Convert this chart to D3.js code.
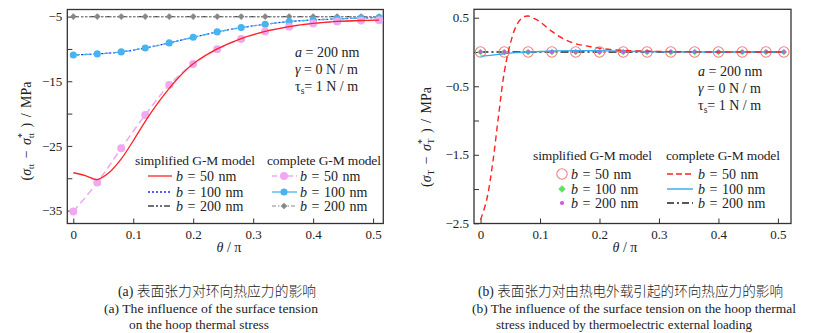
<!DOCTYPE html>
<html><head><meta charset="utf-8">
<script src="https://cdn.jsdelivr.net/npm/d3@7"></script>
<style>
body{margin:0;background:#fff;}
svg{display:block;}
text{font-family:"Liberation Serif","Times New Roman",serif;fill:#222;}
</style></head>
<body>
<svg id="c" width="814" height="333"></svg>
<script>
// ---------- data ----------
const thetaMarks = [0,0.04,0.08,0.12,0.16,0.20,0.24,0.28,0.32,0.36,0.40,0.44,0.48,0.51];
const aComplete50 = [-35.15,-30.67,-25.36,-20.21,-15.57,-12.32,-10.05,-8.45,-7.32,-6.55,-6.08,-5.77,-5.62,-5.57];
const aB100 = [-10.93,-10.77,-10.46,-9.85,-9.07,-8.20,-7.37,-6.70,-6.19,-5.77,-5.52,-5.36,-5.21,-5.15];
const aB200 = [-5,-5,-5,-5,-5,-5,-5,-5,-5,-5,-5,-5,-5,-5];
const thetaA50 = [0,0.02,0.04,0.06,0.08,0.10,0.12,0.14,0.16,0.18,0.20,0.24,0.28,0.32,0.36,0.40,0.44,0.48,0.51];
const aSimplified50 = [-29.15,-29.6,-30.2,-29.1,-27.0,-24.2,-21.2,-18.5,-16.1,-14.0,-12.3,-10.0,-8.4,-7.3,-6.55,-6.05,-5.75,-5.6,-5.55];

const thetaB50 = [0,0.01,0.02,0.03,0.04,0.05,0.06,0.07,0.08,0.09,0.10,0.12,0.14,0.16,0.18,0.20,0.22,0.25,0.30,0.35,0.40,0.45,0.51];
const bComplete50 = [-2.45,-2.17,-1.65,-0.95,-0.29,0.12,0.38,0.5,0.525,0.49,0.44,0.3,0.19,0.12,0.085,0.055,0.035,0.02,0.008,0.003,0,0,0];
const thetaB100 = [0,0.02,0.04,0.06,0.08,0.12,0.16,0.20,0.24,0.30,0.40,0.51];
const bComplete100 = [-0.06,-0.045,-0.025,-0.01,0.0,0.015,0.02,0.018,0.01,0.003,0,0];
const bComplete200 = [0,0,0,0,0,0,0,0,0,0,0,0,0,0];
const bSimplified = [0,0,0,0,0,0,0,0,0,0,0,0,0,0];

const xTicks = [0,0.1,0.2,0.3,0.4,0.5];
const aYTicks = [-5,-10,-15,-20,-25,-30,-35];
const aYLabels = [-5,-15,-25,-35];
const bYTicks = [0.5,0,-0.5,-1,-1.5,-2,-2.5];
const bYLabels = [0.5,-0.5,-1.5,-2.5];
const legendB = ["50","100","200"];

// ---------- drawing ----------
const svg = d3.select("#c");
const fmtMinus = v => (v<0 ? "\u2212" + String(Math.abs(v)) : String(v));

function panel(o){
  const g = svg.append("g");
  const x = d3.scaleLinear().domain(o.xd).range([o.x0,o.x1]);
  const y = d3.scaleLinear().domain(o.yd).range([o.y1,o.y0]);
  const ax = g.append("g").attr("transform",`translate(0,${o.y1})`)
    .call(d3.axisBottom(x).tickValues(xTicks).tickSize(-5).tickPadding(6).tickFormat(d=>String(d)));
  const ay = g.append("g").attr("transform",`translate(${o.x0},0)`)
    .call(d3.axisLeft(y).tickValues(o.yt).tickSize(-5).tickPadding(5)
      .tickFormat(d=> o.yl.some(v=>Math.abs(v-d)<1e-9) ? fmtMinus(d) : ""));
  [ax,ay].forEach(a=>{
    a.attr("font-family",null);
    a.select(".domain").remove();
    a.selectAll("line").attr("stroke","#333").attr("stroke-width",1);
    a.selectAll("text").attr("font-size",13).attr("fill","#222")
      .style("font-family","Liberation Serif, serif");
  });
  g.append("rect").attr("x",o.x0).attr("y",o.y0).attr("width",o.x1-o.x0).attr("height",o.y1-o.y0)
    .attr("fill","none").attr("stroke","#333").attr("stroke-width",1.3);
  return {g,x,y};
}

function line(p, xs, ys, st, curve){
  const pts = xs.map((t,i)=>[t,ys[i]]);
  p.g.append("path").datum(pts)
    .attr("d", d3.line().x(d=>p.x(d[0])).y(d=>p.y(d[1])).curve(curve||d3.curveCatmullRom.alpha(0.5)))
    .attr("fill","none").attr("stroke",st.c).attr("stroke-width",st.w||1.3)
    .attr("stroke-dasharray",st.dash||null);
}
function markers(p, xs, ys, kind, st){
  const pts = xs.map((t,i)=>[t,ys[i]]);
  const sel = p.g.append("g").selectAll("path").data(pts).join("path")
    .attr("transform",d=>`translate(${p.x(d[0])},${p.y(d[1])})` + (kind==="diamond"?" rotate(45)":""));
  drawSym(sel, kind, st);
}
function drawSym(sel, kind, st){
  if(kind==="circle"){
    sel.attr("d", d3.symbol(d3.symbolCircle, st.s)).attr("fill",st.fill||"none")
       .attr("stroke",st.stroke||"none").attr("stroke-width",st.sw||1);
  } else {
    sel.attr("d", d3.symbol(d3.symbolSquare, st.s)).attr("fill",st.fill)
       .attr("stroke",st.stroke||"none");
  }
}

// ---- panel a ----
const A = panel({x0:67.3,x1:383.3,y0:9.5,y1:223.5,xd:[-0.01,0.517],yd:[-37,-3.9],yt:aYTicks,yl:aYLabels});
const pink="#f0a8f0", blueL="#47b4f0", blueD="#2a2aff", greyD="#444", greyL="#888", red="#ff2222";
line(A, thetaMarks, aB200, {c:greyD,w:1.4,dash:"6,2,2,2,2,2"});
line(A, thetaMarks, aB200, {c:greyL,w:1.2,dash:"2,2"});
markers(A, thetaMarks, aB200, "diamond", {s:22, fill:greyL});
line(A, thetaMarks, aB100, {c:blueD,w:1.3,dash:"2,2"});
line(A, thetaMarks, aB100, {c:blueL,w:1.2,dash:"7,3"});
markers(A, thetaMarks, aB100, "circle", {s:40, fill:blueL});
line(A, thetaMarks, aComplete50, {c:pink,w:1.5,dash:"7,4"});
markers(A, thetaMarks, aComplete50, "circle", {s:50, fill:pink});
line(A, thetaA50, aSimplified50, {c:red,w:1.3});

// annotations
function ann(g, x, y0, dy){
  const t1 = g.append("text").attr("x",x).attr("y",y0).attr("font-size",14);
  t1.append("tspan").attr("font-style","italic").text("a");
  t1.append("tspan").text(" = 200 nm");
  const t2 = g.append("text").attr("x",x).attr("y",y0+dy).attr("font-size",14);
  t2.append("tspan").attr("font-style","italic").text("γ");
  t2.append("tspan").text(" = 0 N / m");
  const t3 = g.append("text").attr("x",x).attr("y",y0+2*dy).attr("font-size",14);
  t3.append("tspan").text("τ");
  t3.append("tspan").attr("font-size",9.5).attr("dy",3).text("s");
  t3.append("tspan").attr("dy",-3).text("= 1 N / m");
}
ann(A.g, 295, 57, 17);

// legend a
function bText(g, x, y, v){
  const t = g.append("text").attr("x",x).attr("y",y).attr("font-size",14).attr("word-spacing",1);
  t.append("tspan").attr("font-style","italic").text("b");
  t.append("tspan").text(" = " + v + " nm");
}
const LA = A.g.append("g");
LA.append("text").attr("x",135).attr("y",165).attr("font-size",13.5).attr("textLength",120).text("simplified G-M model");
LA.append("text").attr("x",267).attr("y",165).attr("font-size",13.5).attr("textLength",114).text("complete G-M model");
const rowsA = [176,192,206];
const simpA = [{c:red,w:1.3},{c:blueD,w:1.3,dash:"2,2"},{c:greyD,w:1.4,dash:"6,2,2,2,2,2"}];
const compA = [{c:pink,w:1.5,dash:"5,3",m:"circle",ms:{s:50,fill:pink}},{c:blueL,w:1.3,m:"circle",ms:{s:40,fill:blueL}},{c:greyL,w:1.2,dash:"4,2,1.5,2",m:"diamond",ms:{s:22,fill:greyL}}];
rowsA.forEach((yy,i)=>{
  LA.append("line").attr("x1",148).attr("x2",172).attr("y1",yy).attr("y2",yy)
    .attr("stroke",simpA[i].c).attr("stroke-width",simpA[i].w).attr("stroke-dasharray",simpA[i].dash||null);
  bText(LA, 176, yy+4.5, legendB[i]);
  LA.append("line").attr("x1",272).attr("x2",297).attr("y1",yy).attr("y2",yy)
    .attr("stroke",compA[i].c).attr("stroke-width",compA[i].w).attr("stroke-dasharray",compA[i].dash||null);
  drawSym(LA.append("path").attr("transform",`translate(284,${yy})`+(compA[i].m==="diamond"?" rotate(45)":"")), compA[i].m, compA[i].ms);
  bText(LA, 300, yy+4.5, legendB[i]);
});

// ---- panel b ----
const B = panel({x0:474,x1:791,y0:9.3,y1:223.5,xd:[-0.011,0.522],yd:[-2.503,0.623],yt:bYTicks,yl:bYLabels});
const circC="#f08080", green="#66dd66", purple="#cc55ee", blueB="#33a8ee";
line(B, thetaMarks, bComplete200, {c:"#222",w:1.5,dash:"8,3,2,3"});
markers(B, thetaMarks, bSimplified, "circle", {s:85, stroke:circC, sw:1.1, fill:"none"});
markers(B, thetaMarks, bSimplified, "diamond", {s:22, fill:green});
markers(B, thetaMarks, bSimplified, "circle", {s:12, fill:purple});
line(B, thetaB100, bComplete100, {c:blueB,w:1.4});
line(B, thetaB50, bComplete50, {c:red,w:1.4,dash:"6,4"});
ann(B.g, 698, 76, 17);

const LB = B.g.append("g");
LB.append("text").attr("x",533).attr("y",160).attr("font-size",13.5).attr("textLength",119).text("simplified G-M model");
LB.append("text").attr("x",666).attr("y",160).attr("font-size",13.5).attr("textLength",114).text("complete G-M model");
const rowsB = [174,189,203];
const symB = [["circle",{s:85,stroke:circC,sw:1.1,fill:"none"}],["diamond",{s:28,fill:green}],["circle",{s:14,fill:purple}]];
const compB = [{c:red,w:1.4,dash:"6,3"},{c:blueB,w:1.4},{c:"#222",w:1.4,dash:"7,3,2,3"}];
rowsB.forEach((yy,i)=>{
  drawSym(LB.append("path").attr("transform",`translate(562,${yy})`+(symB[i][0]==="diamond"?" rotate(45)":"")), symB[i][0], symB[i][1]);
  bText(LB, 571, yy+4.5, legendB[i]);
  LB.append("line").attr("x1",667).attr("x2",693).attr("y1",yy).attr("y2",yy)
    .attr("stroke",compB[i].c).attr("stroke-width",compB[i].w).attr("stroke-dasharray",compB[i].dash||null);
  bText(LB, 698, yy+4.5, legendB[i]);
});

// ---- axis titles ----
function xTitle(cx){
  const t = svg.append("text").attr("x",cx).attr("y",252).attr("font-size",14).attr("text-anchor","middle");
  t.append("tspan").attr("font-style","italic").text("θ");
  t.append("tspan").text(" / π");
}
xTitle(229); xTitle(625);

function yTitle(cx, cy, sub){
  const t = svg.append("text").attr("transform",`translate(${cx},${cy}) rotate(-90)`)
    .attr("font-size",14).attr("text-anchor","middle").attr("word-spacing",2);
  t.append("tspan").text("(");
  t.append("tspan").attr("font-style","italic").text("σ");
  t.append("tspan").attr("font-size",9).attr("dy",3).text(sub);
  t.append("tspan").attr("dy",-3).text(" − ");
  t.append("tspan").attr("font-style","italic").text("σ");
  t.append("tspan").attr("font-size",10).attr("dy",-6).text("*");
  t.append("tspan").attr("font-size",9).attr("dx",-5).attr("dy",9).text(sub);
  t.append("tspan").attr("dy",-3).text(" ) / MPa");
}
yTitle(31, 131, "tt");
yTitle(431, 137, "T");

// ---- captions ----
function cap(x, y, w, txt, cjk){
  svg.append("text").attr("x",x).attr("y",y).attr("font-size",cjk?14:13.5)
    .attr("textLength",w).attr("lengthAdjust","spacingAndGlyphs")
    .style("font-family", cjk ? "Liberation Serif, Noto Sans CJK SC" : "Liberation Serif, serif")
    .style("font-weight", cjk ? "300" : "normal")
    .text(txt);
}
cap(118, 296, 198, "(a) 表面张力对环向热应力的影响", true);
cap(104, 313, 214, "(a) The influence of the surface tension");
cap(129, 329, 140, "on the hoop thermal stress");
cap(478, 296, 305, "(b) 表面张力对由热电外载引起的环向热应力的影响", true);
cap(472, 313, 324, "(b) The influence of the surface tension on the hoop thermal");
cap(496, 329, 256, "stress induced by thermoelectric external loading");
</script>
</body></html>
